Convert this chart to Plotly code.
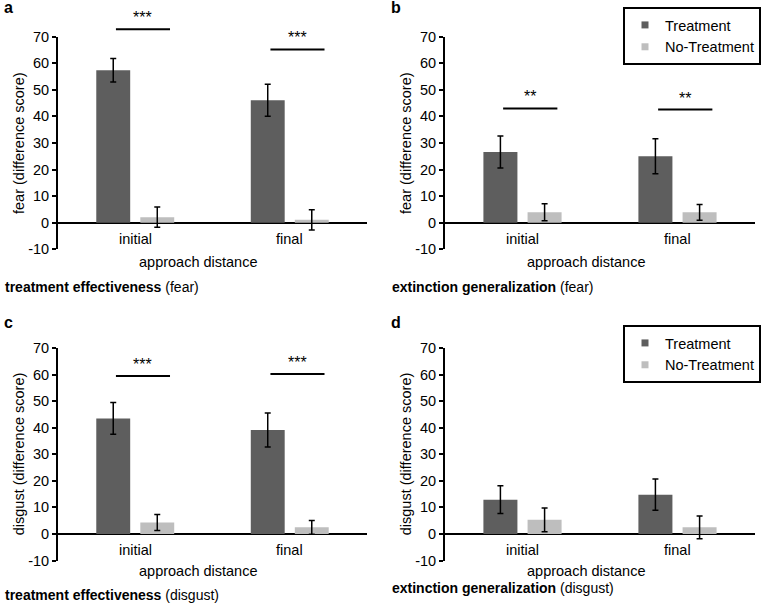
import plotly.graph_objects as go

W, H = 768, 604
FONT = "Liberation Sans, Arial, sans-serif"
DARK = "#5e5e5e"
LIGHT = "#bebebe"
Y_MIN, Y_MAX = -10, 70

categories = ["initial", "final"]
series_names = ["Treatment", "No-Treatment"]
y_ticks = [-10, 0, 10, 20, 30, 40, 50, 60, 70]
y_tick_text = ["-10", "0", "10", "20", "30", "40", "50", "60", "70"]

# a - treatment effectiveness (fear)
a_treat = [57.4, 46.1]
a_treat_err = [4.4, 6.0]
a_none = [2.1, 1.1]
a_none_err = [3.8, 3.8]
a_sig = [72.8, 65.2]
a_stars = ["***", "***"]

# b - extinction generalization (fear)
b_treat = [26.6, 25.0]
b_treat_err = [6.0, 6.6]
b_none = [3.9, 3.9]
b_none_err = [3.2, 3.0]
b_sig = [43.0, 42.6]
b_stars = ["**", "**"]

# c - treatment effectiveness (disgust)
c_treat = [43.5, 39.1]
c_treat_err = [6.0, 6.4]
c_none = [4.3, 2.5]
c_none_err = [3.0, 2.6]
c_sig = [59.5, 60.2]
c_stars = ["***", "***"]

# d - extinction generalization (disgust)
d_treat = [12.9, 14.8]
d_treat_err = [5.2, 5.9]
d_none = [5.3, 2.5]
d_none_err = [4.5, 4.3]
d_sig = []
d_stars = []

panels = [
    dict(letter="a", treat=a_treat, treat_err=a_treat_err, none=a_none, none_err=a_none_err,
         sig=a_sig, stars=a_stars, ytitle="fear (difference score)",
         bold="treatment effectiveness", tail="(fear)",
         left=58, right=367, top=36.7, bottom=249.3, appr_y=262, cap_y=287, let_y=7.5,
         legend=None),
    dict(letter="b", treat=b_treat, treat_err=b_treat_err, none=b_none, none_err=b_none_err,
         sig=b_sig, stars=b_stars, ytitle="fear (difference score)",
         bold="extinction generalization", tail="(fear)",
         left=445, right=755, top=36.7, bottom=249.3, appr_y=262, cap_y=287, let_y=7.5,
         legend="legend"),
    dict(letter="c", treat=c_treat, treat_err=c_treat_err, none=c_none, none_err=c_none_err,
         sig=c_sig, stars=c_stars, ytitle="disgust (difference score)",
         bold="treatment effectiveness", tail="(disgust)",
         left=58, right=367, top=348, bottom=560.5, appr_y=571, cap_y=594.5, let_y=322.5,
         legend=None),
    dict(letter="d", treat=d_treat, treat_err=d_treat_err, none=d_none, none_err=d_none_err,
         sig=d_sig, stars=d_stars, ytitle="disgust (difference score)",
         bold="extinction generalization", tail="(disgust)",
         left=445, right=755, top=348, bottom=560.5, appr_y=571, cap_y=588, let_y=322.5,
         legend="legend2"),
]


def dom(v):
    return (v - Y_MIN) / (Y_MAX - Y_MIN)


fig = go.Figure()
shapes = []
annotations = []
layout_axes = {}

for n, p in enumerate(panels, start=1):
    sfx = "" if n == 1 else str(n)
    xr, yr = "x" + sfx, "y" + sfx

    for name, vals, errs, col in [
        (series_names[0], p["treat"], p["treat_err"], DARK),
        (series_names[1], p["none"], p["none_err"], LIGHT),
    ]:
        fig.add_trace(go.Bar(
            x=categories, y=vals, name=name, xaxis=xr, yaxis=yr,
            marker=dict(color=col, line=dict(width=0)),
            error_y=dict(type="data", array=errs, color="black", thickness=1.5, width=3),
            showlegend=False,
        ))
        if p["legend"]:
            # small square swatches for the boxed legend
            fig.add_trace(go.Scatter(
                x=[None], y=[None], mode="markers", name=name, xaxis=xr, yaxis=yr,
                marker=dict(symbol="square", size=7, color=col),
                legend=p["legend"], showlegend=True,
            ))

    layout_axes["xaxis" + sfx] = dict(
        domain=[p["left"] / W, p["right"] / W], anchor=yr, automargin=False,
        showline=False, showticklabels=False, ticks="", showgrid=False, zeroline=False,
    )
    layout_axes["yaxis" + sfx] = dict(
        domain=[1 - p["bottom"] / H, 1 - p["top"] / H], anchor=xr, automargin=False,
        range=[Y_MIN, Y_MAX], tickvals=y_ticks, ticktext=y_tick_text,
        ticks="outside", ticklen=4, tickwidth=2,
        tickcolor="black", showline=True, linewidth=2, linecolor="black",
        zeroline=True, zerolinewidth=2, zerolinecolor="black", showgrid=False,
        tickfont=dict(family=FONT, size=14.5, color="black"), layer="above traces",
    )

    # significance bars + stars
    for i, (v, s) in enumerate(zip(p["sig"], p["stars"])):
        shapes.append(dict(type="line", xref=xr, yref=yr + " domain",
                           x0=i - 0.125, x1=i + 0.225, y0=dom(v), y1=dom(v),
                           line=dict(color="black", width=2)))
        annotations.append(dict(text=s, xref=xr, yref=yr + " domain", x=i + 0.05, y=dom(v),
                                yanchor="bottom", yshift=1, showarrow=False,
                                font=dict(family=FONT, size=16, color="black")))

    # category labels sit just under the zero line
    for c in categories:
        annotations.append(dict(text=c, xref=xr, yref=yr, x=c, y=0, yanchor="middle",
                                yshift=-16, showarrow=False,
                                font=dict(family=FONT, size=14.5, color="black")))

    annotations.append(dict(text="approach distance", xref=xr + " domain", yref=yr + " domain",
                            x=0.455, y=0, yanchor="middle", yshift=p["bottom"] - p["appr_y"],
                            showarrow=False, font=dict(family=FONT, size=14.5, color="black")))
    annotations.append(dict(text=p["ytitle"], xref=xr + " domain", yref=yr + " domain",
                            x=0, y=0.5, xshift=-49, textangle=-90, showarrow=False,
                            font=dict(family=FONT, size=14.5, color="black")))
    annotations.append(dict(text="<b>%s</b>" % p["letter"], xref="paper", yref="paper",
                            x=(p["left"] - 56) / W, y=1 - p["let_y"] / H, xanchor="left",
                            yanchor="middle", showarrow=False,
                            font=dict(family=FONT, size=16, color="black")))
    annotations.append(dict(text="<b>%s</b> %s" % (p["bold"], p["tail"]), xref="paper",
                            yref="paper", x=(p["left"] - 55) / W, y=1 - p["cap_y"] / H,
                            xanchor="left", yanchor="middle", showarrow=False,
                            font=dict(family=FONT, size=14, color="black")))

legend_style = dict(
    xanchor="left", yanchor="top", bgcolor="white", bordercolor="black", borderwidth=2,
    font=dict(family=FONT, size=14.5, color="black"), tracegroupgap=0, itemwidth=30,
)

fig.update_layout(
    width=W, height=H,
    margin=dict(l=0, r=0, t=0, b=0, pad=0, autoexpand=False),
    paper_bgcolor="white", plot_bgcolor="white",
    barmode="group", bargap=0.43, bargroupgap=0.23,
    font=dict(family=FONT, size=14, color="black"),
    shapes=shapes, annotations=annotations,
    legend=dict(x=623 / W, y=1 - 7 / H, **legend_style),
    legend2=dict(x=623 / W, y=1 - 325 / H, **legend_style),
    **layout_axes,
)

# drop the browser's default body margin so the figure fills the window
fig.write_html("out.html", config={"displayModeBar": False},
               post_script="document.body.style.margin = '0';")
